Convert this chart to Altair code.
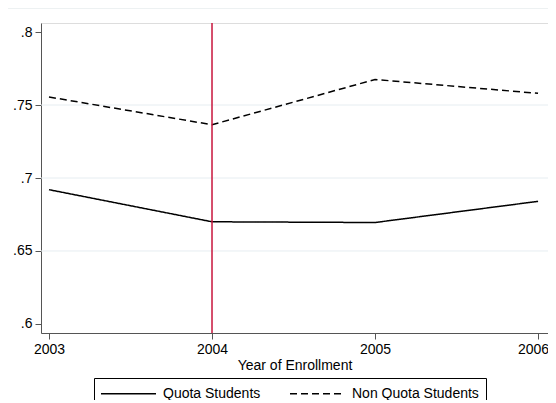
import altair as alt
import pandas as pd

years = [2003, 2004, 2005, 2006]
quota = [0.692, 0.670, 0.6695, 0.684]
non_quota = [0.7555, 0.7365, 0.7675, 0.758]
series_names = ["Quota Students", "Non Quota Students"]
grid_vals = [0.65, 0.70, 0.75]
vline_year = [2004]

rows = []
for y, q, n in zip(years, quota, non_quota):
    rows.append({"year": y, "value": q, "series": series_names[0]})
    rows.append({"year": y, "value": n, "series": series_names[1]})
df = pd.DataFrame(rows)

xscale = alt.Scale(domain=[2002.951, 2006.061], nice=False, zero=False)
yscale = alt.Scale(domain=[0.5938, 0.8062], nice=False, zero=False)

FONT = "Liberation Sans"

# faint outer frame line at the top of the graph region
frame = alt.Chart(pd.DataFrame({"k": [0]})).mark_rule(
    color="#edf1f2", strokeWidth=1
).encode(x=alt.value(-33), x2=alt.value(515), y=alt.value(-14.5))

grid = alt.Chart(pd.DataFrame({"g": grid_vals})).mark_rule(
    color="#e6edf1", strokeWidth=1
).encode(y=alt.Y("g:Q", scale=yscale))

lines = alt.Chart(df).mark_line(color="black", strokeWidth=1.5).encode(
    x=alt.X("year:Q", scale=xscale,
            axis=alt.Axis(values=years, format="d", title="Year of Enrollment",
                          grid=False, tickSize=6, labelPadding=3, titlePadding=2,
                          labelFontSize=14, titleFontSize=14, titleFontWeight="normal",
                          labelColor="black", titleColor="black",
                          domainColor="#555555", tickColor="#555555",
                          labelFont=FONT, titleFont=FONT, labelFlush=False,
                          labelOffset=alt.condition("datum.value == 2006",
                                                    alt.value(-5), alt.value(0)))),
    y=alt.Y("value:Q", scale=yscale,
            axis=alt.Axis(values=[0.6, 0.65, 0.7, 0.75, 0.8], title=None, grid=False,
                          labelExpr="replace(format(datum.value, '.2~f'), '0.', '.')",
                          tickSize=6, labelPadding=3, labelFontSize=14, labelColor="black",
                          domainColor="#555555", tickColor="#555555", labelFont=FONT)),
    strokeDash=alt.StrokeDash("series:N",
        scale=alt.Scale(domain=series_names, range=[[1, 0], [7, 4]]),
        sort=series_names,
        legend=alt.Legend(orient="none", legendX=53, legendY=355, direction="horizontal",
                          title=None, strokeColor="black", padding=7,
                          symbolType="M-3.667,0H3.667", symbolSize=225, symbolOffset=19,
                          symbolStrokeWidth=1.5,
                          symbolStrokeColor="black", labelFontSize=14, labelFont=FONT,
                          labelColor="black", labelOffset=26, columnPadding=25,
                          fillColor="white")),
    detail="series:N",
)

vline = alt.Chart(pd.DataFrame({"x": vline_year})).mark_rule(
    color="#c8153c", strokeWidth=1.5
).encode(x=alt.X("x:Q", scale=xscale))

chart = alt.layer(frame, grid, lines, vline).properties(
    width=507, height=310,
    autosize=alt.AutoSizeParams(type="none"),
    padding={"left": 33, "top": 15, "right": 0, "bottom": 67},
).configure_view(stroke=None).configure(background="white")

chart.save("out.html", embed_options={"renderer": "svg", "actions": False})
